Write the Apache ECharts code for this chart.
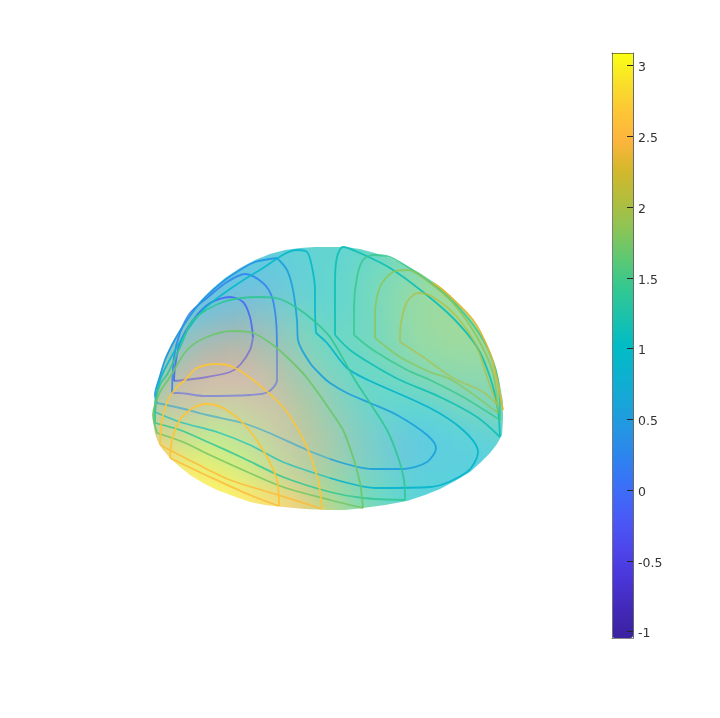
<!DOCTYPE html>
<html><head><meta charset="utf-8">
<style>html,body{margin:0;padding:0;background:#fff}#c{width:720px;height:718px}</style>
<script src="https://cdn.jsdelivr.net/npm/echarts@6/dist/echarts.min.js"></script>
</head><body><div id="c"></div>
<script>
const colorbarMin = -1.045, colorbarMax = 3.09;
const colorbarTicks = [-1,-0.5,0,0.5,1,1.5,2,2.5,3];
const palette = ['#3b22a0','#4228b8','#4a36d8','#4d45ea','#4a58f5','#3d6cf8','#2f80f0','#2693e4','#18a5d8','#0db1cf','#00bcc5','#1cc2ab','#34c890','#5fc872','#8cc455','#b3bd3c','#d4b82c','#fdb43c','#fdc636','#f8e028','#fbff14'];

const gridX = [160,180,200,220,240,260,280,300,320,340,360,380,400,420,440,460,480,500];
const gridY = [255,275,295,315,335,355,375,395,415,435,455,475,495,515];

// nearer sheet of the surface, values read row by row
const sheetNear = [
[1.0,1.0,1.0,1.0,1.0,1.05,1.1,1.15,1.2,1.2,1.2,1.2,1.25,1.25,1.3,1.3,1.3,1.3],
[1.0,1.0,1.0,1.0,1.05,1.1,1.15,1.15,1.2,1.2,1.2,1.25,1.3,1.35,1.4,1.4,1.4,1.4],
[1.1,1.1,1.1,1.15,1.2,1.25,1.25,1.25,1.2,1.2,1.2,1.25,1.35,1.5,1.55,1.55,1.55,1.5],
[1.25,1.25,1.3,1.4,1.5,1.55,1.5,1.45,1.3,1.2,1.15,1.2,1.35,1.5,1.55,1.6,1.6,1.5],
[1.4,1.5,1.7,1.8,1.85,1.8,1.7,1.6,1.45,1.3,1.2,1.2,1.3,1.5,1.55,1.6,1.6,1.5],
[1.5,1.8,2.05,2.15,2.2,2.1,1.95,1.75,1.55,1.4,1.25,1.2,1.25,1.4,1.45,1.5,1.5,1.45],
[1.8,2.2,2.4,2.5,2.5,2.4,2.15,1.9,1.7,1.5,1.35,1.2,1.15,1.2,1.25,1.3,1.3,1.3],
[2.1,2.45,2.6,2.7,2.65,2.5,2.35,2.1,1.85,1.6,1.4,1.25,1.1,1.05,1.05,1.1,1.15,1.15],
[2.4,2.6,2.75,2.85,2.8,2.65,2.5,2.25,1.95,1.7,1.5,1.3,1.15,1.0,0.95,0.95,0.95,1.0],
[2.5,2.8,2.9,3,2.9,2.8,2.55,2.35,2.1,1.8,1.55,1.35,1.2,1.0,0.95,0.9,0.9,0.9],
[2.6,2.9,3,3,3,2.85,2.65,2.4,2.1,1.85,1.6,1.4,1.2,1.05,0.95,0.9,0.9,0.9],
[2.7,3,3.05,3.05,3,2.9,2.7,2.45,2.15,1.85,1.6,1.4,1.2,1.05,1,0.9,0.9,0.9],
[2.7,3,3.05,3.05,3,2.9,2.75,2.45,2.15,1.85,1.6,1.4,1.2,1.05,1,0.9,0.9,0.9],
[2.7,3,3.05,3.05,3,2.9,2.75,2.45,2.15,1.85,1.6,1.4,1.2,1.05,1,0.9,0.9,0.9]
];
// farther sheet of the surface, seen through the nearer one
const sheetFar = [
[0.5,0.5,0.5,0.5,0.45,0.5,0.6,0.75,0.95,1.0,1.2,1.4,1.55,1.65,1.7,1.75,1.75,1.75],
[0.5,0.5,0.45,0.4,0.3,0.2,0.3,0.6,0.95,1.1,1.35,1.55,1.75,1.85,1.9,1.9,1.9,1.9],
[0.5,0.45,0.3,0.05,-0.15,-0.05,0.25,0.6,0.95,1.1,1.4,1.65,1.85,1.9,1.9,1.9,1.9,1.9],
[0.5,0.3,-0.1,-0.3,-0.35,-0.15,0.15,0.6,0.95,1.15,1.45,1.7,1.85,1.9,1.9,1.9,1.9,1.9],
[0.5,0.05,-0.25,-0.4,-0.45,-0.25,0.1,0.55,1.0,1.2,1.45,1.7,1.85,1.9,1.9,1.9,1.9,1.9],
[0.45,-0.05,-0.3,-0.4,-0.35,-0.1,0.1,0.45,0.8,1.0,1.3,1.6,1.8,1.9,1.9,1.9,1.9,1.9],
[0.4,-0.15,-0.15,-0.15,-0.1,0,0.15,0.3,0.55,0.8,1.0,1.35,1.6,1.8,1.9,1.95,1.95,1.9],
[0.4,0.1,0.05,0.1,0.1,0.15,0.2,0.35,0.45,0.55,0.85,1.1,1.35,1.55,1.75,1.9,1.95,1.95],
[0.9,0.65,0.6,0.5,0.5,0.4,0.4,0.4,0.45,0.5,0.55,0.7,0.9,1.1,1.3,1.55,1.7,1.8],
[1.6,1.3,1.05,0.95,0.75,0.65,0.55,0.5,0.4,0.4,0.4,0.45,0.45,0.55,0.9,1.1,1.25,1.4],
[2.4,1.9,1.7,1.45,1.2,0.95,0.8,0.7,0.55,0.45,0.35,0.35,0.35,0.45,0.75,0.95,1.0,1.1],
[3,2.7,2.4,2.1,1.75,1.5,1.2,1.05,0.9,0.7,0.65,0.65,0.65,0.7,0.85,0.95,1,1],
[3,3,2.9,2.75,2.6,2.3,2.0,1.75,1.5,1.3,1.1,1.05,1.0,1.0,0.95,0.95,1,1],
[3,3,3,3,2.9,2.7,2.5,2.3,2.0,1.7,1.5,1.3,1.1,1,1,1,1,1]
];

// silhouette of the hemisphere
const outline = [[153,420],[154,405],[156,392],[160,374],[165,358],[172,343],[180,329],[190,314],[200,301],[212,289],[225,278],[240,268],[255,260],[270,254],[285,250],[300,248],[315,247],[330,247],[345,247],[360,249],[375,253],[390,258],[405,265],[420,273],[435,283],[450,295],[462,308],[473,321],[482,335],[490,352],[496,368],[500,385],[503,402],[503,420],[502,435],[497,444],[490,453],[480,463],[470,472],[455,481],[440,489],[425,495],[407,501],[385,505],[363,508],[345,510],[328,510],[305,509],[283,507],[265,505],[250,502],[233,496],[217,490],[203,483],[190,475],[180,467],[170,458],[163,450],[158,442],[155,434],[153,420]];
const outerFrame = [[100,420],[100,200],[560,200],[560,570],[100,570],[100,420]];

// contour lines: each holds its level, strength and traced points
const loopInnerTop = [[174,381],[175,367],[180,343],[193,320],[210,303],[230,297],[243,302],[250,317],[253,337]];
const loopInnerBottom = [[253,337],[250,350],[240,365],[230,372],[207,377],[193,379],[174,381]];
const loopOuterTop = [[172,393],[174,357],[180,333],[190,313],[207,298],[227,282],[245,274],[263,283],[272,297],[276,320],[277,347]];
const loopOuterBottom = [[277,347],[277,380],[268,392],[250,395],[205,396],[178,393],[172,393]];
const tonguePart = [[277,258],[287,270],[293,290],[297,320],[298,340],[310,363],[323,377],[330,383],[347,393],[370,403],[397,415],[427,435],[436,448],[427,462],[403,469],[373,469],[330,459]];
const tongueLeft = [[330,459],[307,450],[267,432],[243,423],[207,415],[180,408],[157,403]];
const tongueEdge = [[157,403],[155,395],[160,376],[165,360],[172,345],[180,331],[190,316],[200,303],[212,291],[225,280],[240,270],[255,262],[277,258]];
const levelOneTop = [[316,333],[315,310],[315,290],[312,267],[307,252],[297,250],[260,270],[233,287],[203,310],[183,337],[160,380],[155,412]];
const levelOneLeft = [[155,412],[180,422],[217,432],[250,445],[283,462],[330,478]];
const levelOneRight = [[330,478],[377,488],[430,487],[467,472],[478,452],[463,430],[430,408],[368,380],[347,368],[327,343],[316,333]];
const stripGreen = [[155,423],[180,430],[210,443],[243,458],[283,477],[330,492],[363,498],[405,500]];
const archGreen = [[405,500],[404,480],[398,457],[387,430],[370,403],[355,380],[330,337],[313,320],[297,308],[280,299],[260,297],[223,302],[193,320],[182,343],[168,373],[160,385],[155,405],[155,423]];
const stripLime = [[157,433],[183,442],[210,455],[243,470],[283,487],[330,500],[363,508]];
const archLime = [[363,508],[360,483],[353,457],[343,430],[330,410],[307,378],[290,360],[273,345],[253,333],[233,331],[207,337],[187,350],[170,377],[160,392],[153,415],[157,433]];
const archOuter = [[160,445],[162,420],[168,400],[177,387],[185,380],[197,368],[217,364],[233,367],[253,380],[283,407],[305,443],[318,480],[322,509]];
const stripOuter = [[160,445],[195,463],[230,480],[275,494],[322,509]];
const archInner = [[170,458],[172,440],[180,420],[193,408],[207,404],[223,408],[243,423],[263,450],[277,480],[279,506]];
const stripInner = [[170,458],[210,477],[250,495],[279,506]];
const lobeOneTop = [[335,335],[335,283],[337,257],[343,247],[360,253],[390,268],[423,292],[453,318],[477,347],[490,377],[498,410],[500,437]];
const lobeOneBottom = [[335,335],[350,350],[373,365],[400,380],[440,397],[477,417],[500,437]];
const lobeTwoTop = [[354,335],[354,307],[357,277],[363,260],[373,255],[390,257],[417,273],[443,292],[467,317],[487,347],[498,380],[500,420]];
const lobeTwoBottom = [[354,335],[373,350],[407,370],[430,380],[463,397],[500,420]];
const lobeThreeTop = [[375,338],[375,317],[380,287],[393,272],[408,270],[430,283],[453,303],[477,337],[493,373],[498,413]];
const lobeThreeBottom = [[375,338],[400,357],[430,372],[452,380],[498,413]];
const lobeFourTop = [[400,342],[401,323],[407,302],[418,293],[433,297],[457,317],[477,347],[488,380],[497,405]];
const lobeFourBottom = [[400,342],[423,357],[453,378],[483,392],[497,405]];
const rimGold = [[433,283],[443,290],[473,320],[490,353],[497,380],[503,410]];

const contourLines = [
 [-0.1,0.85,loopInnerTop],[-0.45,0.5,loopInnerBottom],
 [0.2,0.85,loopOuterTop],[-0.2,0.5,loopOuterBottom],
 [0.55,0.9,tonguePart],[0.55,0.55,tongueLeft],[0.45,0.95,tongueEdge],
 [0.95,0.9,levelOneTop],[1.05,0.65,levelOneLeft],[0.9,0.95,levelOneRight],
 [1.4,0.85,stripGreen],[1.4,0.9,archGreen],
 [1.75,0.85,stripLime],[1.7,0.9,archLime],
 [2.65,0.9,archOuter],[2.55,0.85,stripOuter],[2.65,0.95,archInner],[2.55,0.85,stripInner],
 [1.15,0.95,lobeOneTop],[1.15,0.9,lobeOneBottom],
 [1.45,0.85,lobeTwoTop],[1.45,0.8,lobeTwoBottom],
 [1.85,0.8,lobeThreeTop],[1.85,0.7,lobeThreeBottom],
 [2.05,0.7,lobeFourTop],[2.05,0.6,lobeFourBottom],
 [2.3,0.95,rimGold]
];

function sheetData(sheet){
  const out=[];
  sheet.forEach((row,j)=>row.forEach((v,i)=>out.push([gridX[i],gridY[j],v,i,j])));
  return out;
}
function cellRenderer(api){
  const x=api.value(0), y=api.value(1), i=api.value(3), j=api.value(4);
  const half=10;
  const x0=x-half-(i===0?20:0), x1=x+half+(i===gridX.length-1?20:0);
  const y0=y-half-(j===0?20:0), y1=y+half+(j===gridY.length-1?20:0);
  const a=api.coord([x0,y0]), b=api.coord([x1,y1]);
  return {type:'rect',shape:{x:a[0],y:a[1],width:b[0]-a[0],height:b[1]-a[1]},
    style:{fill:api.visual('color'),opacity:0.41,stroke:null}};
}
const levelColor = v => echarts.color.lerp((v-colorbarMin)/(colorbarMax-colorbarMin), palette);

const frameAxis = {show:true,silent:true,z:20,zlevel:1,axisLine:{onZero:false,lineStyle:{color:'rgba(38,38,38,0.55)',width:1}},axisTick:{show:false},axisLabel:{show:false},splitLine:{show:false}};
const surfaceAxis = {show:false,zlevel:1};

const chart = echarts.init(document.getElementById('c'),null,{renderer:'canvas',width:720,height:718});
chart.setOption({
  animation:false,
  backgroundColor:'transparent',
  textStyle:{fontFamily:'DejaVu Sans'},
  grid:[
    {left:0,top:0,width:720,height:718,show:false,containLabel:false},
    {left:612,top:53,width:21,height:585,show:false,containLabel:false}
  ],
  xAxis:[
    {...surfaceAxis,type:'value',gridIndex:0,min:0,max:720},
    {...frameAxis,type:'value',gridIndex:1,min:0,max:1,position:'bottom'},
    {...frameAxis,type:'value',gridIndex:1,min:0,max:1,position:'top'}
  ],
  yAxis:[
    {...surfaceAxis,type:'value',gridIndex:0,min:0,max:718,inverse:true},
    {type:'value',gridIndex:1,min:colorbarMin,max:colorbarMax,position:'right',z:20,zlevel:1,silent:true,
      axisLine:{show:true,onZero:false,lineStyle:{color:'rgba(38,38,38,0.7)',width:1}},
      axisTick:{show:true,inside:true,length:6,customValues:colorbarTicks,lineStyle:{color:'#262626',width:1}},
      axisLabel:{show:true,margin:5,fontSize:12.5,color:'#333',fontFamily:'DejaVu Sans',verticalAlign:'top',padding:[-4,0,0,0],customValues:colorbarTicks,formatter:v=>String(v)},
      splitLine:{show:false}},
    {...frameAxis,type:'value',gridIndex:1,min:colorbarMin,max:colorbarMax,position:'left',axisLine:{onZero:false,lineStyle:{color:'rgba(120,120,120,0.9)',width:1}}}
  ],
  visualMap:[{
    type:'continuous',show:true,min:colorbarMin,max:colorbarMax,dimension:2,seriesIndex:[0,1],
    left:612,top:53,itemWidth:21,itemHeight:585,padding:0,text:null,showLabel:false,calculable:false,realtime:false,hoverLink:false,
    inRange:{color:palette},textStyle:{fontSize:0},zlevel:1,z:5
  }],
  series:[
    {type:'custom',zlevel:0,silent:true,clip:false,xAxisIndex:0,yAxisIndex:0,data:sheetData(sheetFar),renderItem:(p,api)=>cellRenderer(api),encode:{x:0,y:1}},
    {type:'custom',zlevel:0,silent:true,clip:false,xAxisIndex:0,yAxisIndex:0,data:sheetData(sheetNear),renderItem:(p,api)=>cellRenderer(api),encode:{x:0,y:1}},
    {type:'custom',zlevel:1,z:3,silent:true,clip:false,xAxisIndex:0,yAxisIndex:0,data:[0],
      renderItem:(p,api)=>({type:'polygon',shape:{points:outerFrame.concat(outline.slice().reverse()).map(q=>api.coord(q))},style:{fill:'#fff',stroke:null}})}
  ].concat(contourLines.map(c=>({
    type:'line',zlevel:1,z:4,silent:true,xAxisIndex:0,yAxisIndex:0,symbol:'none',smooth:0.3,clip:false,
    lineStyle:{color:levelColor(c[0]),width:1.8,opacity:c[1]},data:c[2]
  })))
});
function blurSurface(){
  const layer=document.querySelector('#c canvas[data-zr-dom-id="zr_0"]');
  if(layer) layer.style.filter='blur(9px)';
}
blurSurface();
chart.on('finished',blurSurface);
</script></body></html>
